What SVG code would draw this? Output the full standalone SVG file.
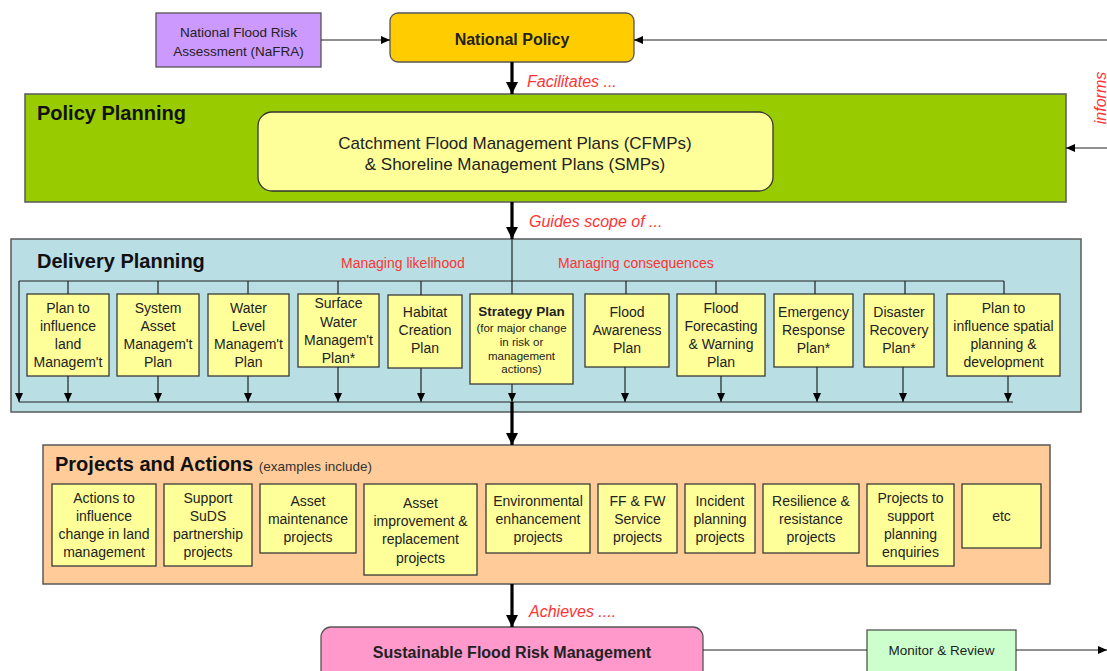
<svg xmlns="http://www.w3.org/2000/svg" width="1107" height="671" viewBox="0 0 1107 671">
<defs>
<style>
.panel{stroke:#5a5a5a;stroke-width:1.5}
.box{fill:#ffff99;stroke:#3a3a3a;stroke-width:1.3}
.t{font-family:"Liberation Sans",Arial,sans-serif;fill:#222;text-anchor:middle}
.b14{font-size:14px}
.b13{font-size:13px}
.title{font-family:"Liberation Sans",Arial,sans-serif;font-weight:bold;font-size:20px;fill:#111}
.red{font-family:"Liberation Sans",Arial,sans-serif;fill:#ff3333}
.lbl{font-style:italic;font-size:16px}
.thin{stroke:#222;stroke-width:1.2;fill:none}
.thick{stroke:#000;stroke-width:3.2;fill:none}
</style>
<marker id="ah" markerUnits="userSpaceOnUse" markerWidth="9" markerHeight="9" refX="9" refY="4" orient="auto"><path d="M0,0 L9,4 L0,8 z" fill="#000"/></marker>
<marker id="big" markerUnits="userSpaceOnUse" markerWidth="12" markerHeight="12" refX="12" refY="6" orient="auto"><path d="M0,0 L12,6 L0,12 z" fill="#000"/></marker>
</defs>
<rect width="1107" height="671" fill="#fff"/>

<g id="nafra">
<rect x="156" y="13" width="165" height="54" fill="#cc99ff" stroke="#555" stroke-width="1.3"/>
<text class="t" x="238.5" y="37" font-size="13.5" fill="#333">National Flood Risk</text>
<text class="t" x="238.5" y="56" font-size="13.5" fill="#333">Assessment (NaFRA)</text>
</g>

<g id="national-policy">
<rect x="390" y="13" width="244" height="49" rx="8" fill="#ffcc00" stroke="#555" stroke-width="1.3"/>
<text class="t" x="512" y="45" font-size="16" font-weight="bold" fill="#111">National Policy</text>
</g>

<g id="policy-planning">
<rect class="panel" x="25" y="94" width="1041" height="108" fill="#99cc00"/>
<text class="title" x="37" y="120">Policy Planning</text>
<rect x="258" y="112" width="515" height="79" rx="14" fill="#ffff99" stroke="#333" stroke-width="1.3"/>
<text class="t" x="515" y="149" font-size="17" fill="#333">Catchment Flood Management Plans (CFMPs)</text>
<text class="t" x="515" y="170" font-size="17" fill="#333">&amp; Shoreline Management Plans (SMPs)</text>
</g>

<g id="delivery-planning">
<rect class="panel" x="11" y="239" width="1070" height="173" fill="#b9dee4"/>
<text class="title" x="37" y="268">Delivery Planning</text>
<text class="red" x="341" y="268" font-size="14">Managing likelihood</text>
<text class="red" x="558" y="268" font-size="14">Managing consequences</text>
</g>

<g id="plan-land">
<rect class="box" x="27" y="294" width="82" height="82"/>
<text class="t b14" x="68" y="313">Plan to</text>
<text class="t b14" x="68" y="331">influence</text>
<text class="t b14" x="68" y="349">land</text>
<text class="t b14" x="68" y="367">Managem't</text>
</g>
<g id="system-asset">
<rect class="box" x="117" y="294" width="82" height="82"/>
<text class="t b14" x="158" y="313">System</text>
<text class="t b14" x="158" y="331">Asset</text>
<text class="t b14" x="158" y="349">Managem't</text>
<text class="t b14" x="158" y="367">Plan</text>
</g>
<g id="water-level">
<rect class="box" x="208" y="294" width="81" height="82"/>
<text class="t b14" x="248.5" y="313">Water</text>
<text class="t b14" x="248.5" y="331">Level</text>
<text class="t b14" x="248.5" y="349">Managem't</text>
<text class="t b14" x="248.5" y="367">Plan</text>
</g>
<g id="surface-water">
<rect class="box" x="298" y="294" width="81" height="73"/>
<text class="t b14" x="338.5" y="308">Surface</text>
<text class="t b14" x="338.5" y="327">Water</text>
<text class="t b14" x="338.5" y="345">Managem't</text>
<text class="t b14" x="338.5" y="363">Plan*</text>
</g>
<g id="habitat">
<rect class="box" x="388" y="295" width="74" height="73"/>
<text class="t b14" x="425" y="317">Habitat</text>
<text class="t b14" x="425" y="335">Creation</text>
<text class="t b14" x="425" y="353">Plan</text>
</g>
<g id="strategy">
<rect class="box" x="470" y="294" width="103" height="90"/>
<text class="t" x="521.5" y="316" font-size="13.5" font-weight="bold" fill="#111">Strategy Plan</text>
<text class="t" x="521.5" y="332" font-size="11.5">(for major change</text>
<text class="t" x="521.5" y="346" font-size="11.5">in risk or</text>
<text class="t" x="521.5" y="360" font-size="11.5">management</text>
<text class="t" x="521.5" y="373" font-size="11.5">actions)</text>
</g>
<g id="flood-awareness">
<rect class="box" x="585" y="294" width="84" height="73"/>
<text class="t b14" x="627" y="317">Flood</text>
<text class="t b14" x="627" y="335">Awareness</text>
<text class="t b14" x="627" y="353">Plan</text>
</g>
<g id="flood-forecasting">
<rect class="box" x="677" y="294" width="88" height="82"/>
<text class="t b14" x="721" y="313">Flood</text>
<text class="t b14" x="721" y="331">Forecasting</text>
<text class="t b14" x="721" y="349">&amp; Warning</text>
<text class="t b14" x="721" y="367">Plan</text>
</g>
<g id="emergency">
<rect class="box" x="774" y="294" width="79" height="73"/>
<text class="t b14" x="813.5" y="317">Emergency</text>
<text class="t b14" x="813.5" y="335">Response</text>
<text class="t b14" x="813.5" y="353">Plan*</text>
</g>
<g id="disaster">
<rect class="box" x="864" y="294" width="70" height="73"/>
<text class="t b14" x="899" y="317">Disaster</text>
<text class="t b14" x="899" y="335">Recovery</text>
<text class="t b14" x="899" y="353">Plan*</text>
</g>
<g id="plan-spatial">
<rect class="box" x="947" y="294" width="113" height="82"/>
<text class="t b14" x="1003.5" y="313">Plan to</text>
<text class="t b14" x="1003.5" y="331">influence spatial</text>
<text class="t b14" x="1003.5" y="349">planning &amp;</text>
<text class="t b14" x="1003.5" y="367">development</text>
</g>

<g id="projects-actions">
<rect class="panel" x="43" y="445" width="1007" height="139" fill="#ffcc99"/>
<text class="title" x="55" y="471">Projects and Actions <tspan font-weight="normal" font-size="13.5" fill="#333">(examples include)</tspan></text>
</g>
<g id="p-land">
<rect class="box" x="52" y="484" width="104" height="82"/>
<text class="t b14" x="104" y="503">Actions to</text>
<text class="t b14" x="104" y="521">influence</text>
<text class="t b14" x="104" y="539">change in land</text>
<text class="t b14" x="104" y="557">management</text>
</g>
<g id="p-suds">
<rect class="box" x="164" y="484" width="88" height="82"/>
<text class="t b14" x="208" y="503">Support</text>
<text class="t b14" x="208" y="521">SuDS</text>
<text class="t b14" x="208" y="539">partnership</text>
<text class="t b14" x="208" y="557">projects</text>
</g>
<g id="p-maint">
<rect class="box" x="260" y="484" width="96" height="69"/>
<text class="t b14" x="308" y="506">Asset</text>
<text class="t b14" x="308" y="524">maintenance</text>
<text class="t b14" x="308" y="542">projects</text>
</g>
<g id="p-improve">
<rect class="box" x="364" y="484" width="113" height="91"/>
<text class="t b14" x="420.5" y="508">Asset</text>
<text class="t b14" x="420.5" y="526">improvement &amp;</text>
<text class="t b14" x="420.5" y="544">replacement</text>
<text class="t b14" x="420.5" y="563">projects</text>
</g>
<g id="p-env">
<rect class="box" x="486" y="484" width="104" height="69"/>
<text class="t b14" x="538" y="506">Environmental</text>
<text class="t b14" x="538" y="524">enhancement</text>
<text class="t b14" x="538" y="542">projects</text>
</g>
<g id="p-ff">
<rect class="box" x="598" y="484" width="79" height="69"/>
<text class="t b14" x="637.5" y="506">FF &amp; FW</text>
<text class="t b14" x="637.5" y="524">Service</text>
<text class="t b14" x="637.5" y="542">projects</text>
</g>
<g id="p-incident">
<rect class="box" x="685" y="484" width="70" height="69"/>
<text class="t b14" x="720" y="506">Incident</text>
<text class="t b14" x="720" y="524">planning</text>
<text class="t b14" x="720" y="542">projects</text>
</g>
<g id="p-resilience">
<rect class="box" x="763" y="484" width="96" height="69"/>
<text class="t b14" x="811" y="506">Resilience &amp;</text>
<text class="t b14" x="811" y="524">resistance</text>
<text class="t b14" x="811" y="542">projects</text>
</g>
<g id="p-planning">
<rect class="box" x="867" y="484" width="87" height="82"/>
<text class="t b14" x="910.5" y="503">Projects to</text>
<text class="t b14" x="910.5" y="521">support</text>
<text class="t b14" x="910.5" y="539">planning</text>
<text class="t b14" x="910.5" y="557">enquiries</text>
</g>
<g id="p-etc">
<rect class="box" x="962" y="484" width="79" height="64"/>
<text class="t b14" x="1001.5" y="521">etc</text>
</g>

<g id="sfrm">
<rect x="321" y="627" width="382" height="60" rx="10" fill="#ff99cc" stroke="#555" stroke-width="1.3"/>
<text class="t" x="512" y="658" font-size="16" font-weight="bold" fill="#111">Sustainable Flood Risk Management</text>
</g>
<g id="monitor">
<rect x="867" y="630" width="149" height="50" fill="#ccffcc" stroke="#555" stroke-width="1.3"/>
<text class="t" x="941.5" y="655" font-size="13.5" fill="#333">Monitor &amp; Review</text>
</g>

<g id="connectors">
<line class="thin" x1="321" y1="40" x2="390" y2="40" marker-end="url(#ah)"/>
<line class="thin" x1="1107" y1="40" x2="634" y2="40" marker-end="url(#ah)" stroke="#444"/>
<line class="thin" x1="1107" y1="148" x2="1066" y2="148" marker-end="url(#ah)" stroke="#444"/>
<text class="red lbl" transform="translate(1106,98) rotate(-90)" text-anchor="middle" font-size="17">informs</text>

<line class="thick" x1="512" y1="62" x2="512" y2="94" marker-end="url(#big)"/>
<text class="red lbl" x="527" y="87">Facilitates ...</text>
<line class="thick" x1="512" y1="202" x2="512" y2="239" marker-end="url(#big)"/>
<text class="red lbl" x="529" y="227">Guides scope of ...</text>

<path class="thin" d="M512,239 V294"/>
<path class="thin" d="M19,281 H1004"/>
<path class="thin" d="M68,281 V294 M158,281 V294 M248,281 V294 M338,281 V294 M421,281 V295 M626,281 V294 M716,281 V294 M815,281 V294 M905,281 V294 M1004,281 V294"/>
<line class="thin" x1="19" y1="281" x2="19" y2="402" marker-end="url(#ah)"/>
<line class="thin" x1="68" y1="376" x2="68" y2="402" marker-end="url(#ah)"/>
<line class="thin" x1="158" y1="376" x2="158" y2="402" marker-end="url(#ah)"/>
<line class="thin" x1="248" y1="376" x2="248" y2="402" marker-end="url(#ah)"/>
<line class="thin" x1="338" y1="367" x2="338" y2="402" marker-end="url(#ah)"/>
<line class="thin" x1="421" y1="368" x2="421" y2="402" marker-end="url(#ah)"/>
<line class="thin" x1="512" y1="384" x2="512" y2="402" marker-end="url(#ah)"/>
<line class="thin" x1="625" y1="367" x2="625" y2="402" marker-end="url(#ah)"/>
<line class="thin" x1="721" y1="376" x2="721" y2="402" marker-end="url(#ah)"/>
<line class="thin" x1="817" y1="367" x2="817" y2="402" marker-end="url(#ah)"/>
<line class="thin" x1="903" y1="367" x2="903" y2="402" marker-end="url(#ah)"/>
<line class="thin" x1="1008" y1="376" x2="1008" y2="402" marker-end="url(#ah)"/>
<path class="thin" d="M19,402 H1013"/>

<line class="thick" x1="512" y1="402" x2="512" y2="445" marker-end="url(#big)"/>
<line class="thick" x1="512" y1="584" x2="512" y2="627" marker-end="url(#big)"/>
<text class="red lbl" x="529" y="617">Achieves ....</text>

<line class="thin" x1="703" y1="650" x2="867" y2="650"/>
<line class="thin" x1="1016" y1="650" x2="1107" y2="650" marker-end="url(#ah)"/>
</g>
</svg>
